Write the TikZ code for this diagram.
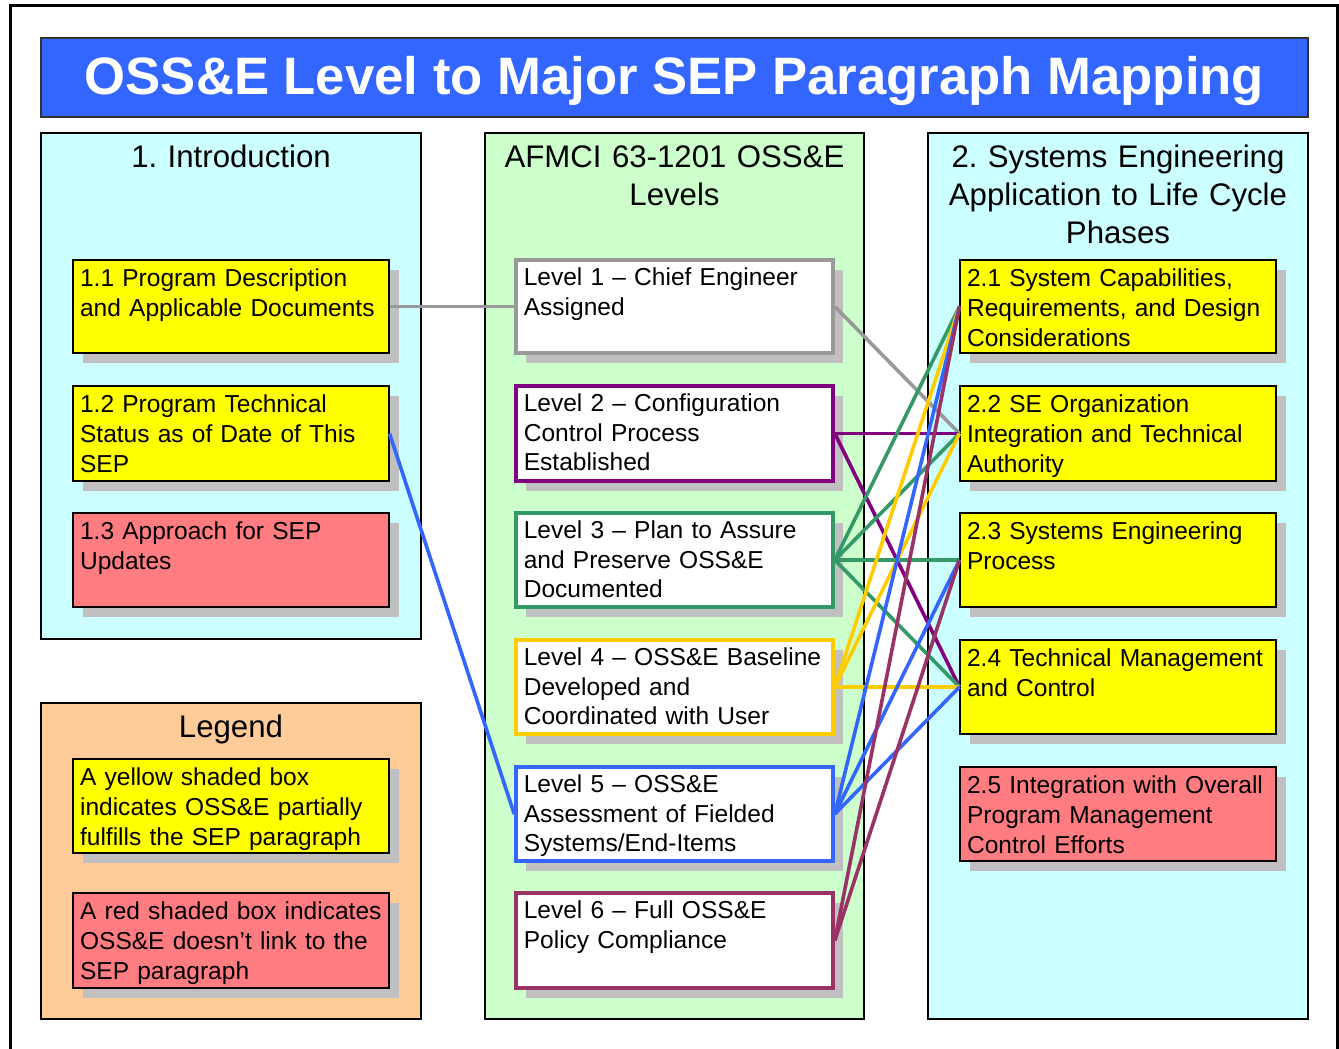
\documentclass[tikz,border=0pt]{standalone}
\usepackage{fontspec}
\setmainfont{Liberation Sans}
\usetikzlibrary{fit,shadows}
\definecolor{titleblue}{HTML}{3366FF}
\definecolor{panelcyan}{HTML}{CCFFFF}
\definecolor{panelgreen}{HTML}{CCFFCC}
\definecolor{panelorange}{HTML}{FFCC99}
\definecolor{boxyellow}{HTML}{FFFF00}
\definecolor{boxred}{HTML}{FF7C80}
\definecolor{shadowgray}{HTML}{C0C0C0}
\definecolor{lvone}{HTML}{999999}
\definecolor{lvtwo}{HTML}{800080}
\definecolor{lvthree}{HTML}{339966}
\definecolor{lvfour}{HTML}{FFCC00}
\definecolor{lvfive}{HTML}{3366FF}
\definecolor{lvsix}{HTML}{993366}
\newcommand\boxfont{\fontsize{18.4}{22.2}\selectfont}
\newcommand\headfont{\fontsize{23.4}{28.5}\selectfont}
\frenchspacing
\tikzset{
  panel/.style={draw=black, line width=0.8pt, inner sep=0pt},
  shad/.style={drop shadow={shadow xshift=7.5pt, shadow yshift=-7.5pt, fill=shadowgray, opacity=1}},
  ybox/.style={shad, draw=black, line width=0.8pt, fill=boxyellow, inner sep=0pt},
  rbox/.style={shad, draw=black, line width=0.8pt, fill=boxred, inner sep=0pt},
  lbox/.style={shad, draw=#1, line width=2.7pt, fill=white, inner sep=0pt},
  txt/.style={font=\boxfont, text width=232pt, align=left, inner sep=0pt, anchor=north west},
  head/.style={font=\headfont, text width=280pt, align=center, inner sep=0pt, anchor=north},
  conn/.style={line width=2.7pt},
}
\begin{document}
\begin{tikzpicture}[x=0.75pt,y=-0.75pt]
\useasboundingbox (0,0) rectangle (1339,1049);
\fill[white] (0,0) rectangle (1339,1049);
% outer frame
\draw[line width=2.25pt] (10,1070) -- (10,6) -- (1337.5,6) -- (1337.5,1070);
% title
\node[draw=black!80, line width=0.8pt, fill=titleblue, inner sep=0pt, fit={(41,38) (1308,117)}] (banner) {};
\node[anchor=base, inner sep=0pt, text=white, font=\fontsize{39.5}{47}\selectfont\bfseries] (title) at (674.5,94) {OSS\&E Level to Major SEP Paragraph Mapping};
% panels
\node[panel, fill=panelcyan, fit={(41,133) (421,639)}] (pleft) {};
\node[panel, fill=panelorange, fit={(41,703) (421,1019)}] (pleg) {};
\node[panel, fill=panelgreen, fit={(485,133) (864,1019)}] (pmid) {};
\node[panel, fill=panelcyan, fit={(928,133) (1308,1019)}] (pright) {};
% headers
\node[head] (h1) at ([yshift=-6.3pt]pleft.north) {\strut 1. Introduction};
\node[head] (h2) at ([yshift=-6.3pt]pmid.north) {\strut AFMCI 63-1201 OSS\&E\\Levels};
\node[head] (h3) at ([yshift=-6.3pt]pright.north) {\strut 2. Systems Engineering\\Application to Life Cycle\\Phases};
\node[head] (h4) at ([yshift=-6.3pt]pleg.north) {\strut Legend};
% left boxes
\node[ybox, fit={(73,260) (389,353)}] (s11) {};
\node[ybox, fit={(73,386) (389,481)}] (s12) {};
\node[rbox, fit={(73,513) (389,607)}] (s13) {};
\node[txt] (t11) at ([xshift=5.5pt,yshift=-4.9pt]s11.north west) {\strut 1.1 Program Description\\and Applicable Documents};
\node[txt] (t12) at ([xshift=5.5pt,yshift=-4.9pt]s12.north west) {\strut 1.2 Program Technical\\Status as of Date of This\\SEP};
\node[txt] (t13) at ([xshift=5.5pt,yshift=-4.9pt]s13.north west) {\strut 1.3 Approach for SEP\\Updates};
% legend boxes
\node[ybox, fit={(73,759) (389,853)}] (g1) {};
\node[rbox, fit={(73,893) (389,988)}] (g2) {};
\node[txt] (tg1) at ([xshift=5.5pt,yshift=-4.9pt]g1.north west) {\strut A yellow shaded box\\indicates OSS\&E partially\\fulfills the SEP paragraph};
\node[txt] (tg2) at ([xshift=5.5pt,yshift=-4.9pt]g2.north west) {\strut A red shaded box indicates\\OSS\&E doesn’t link to the\\SEP paragraph};
% middle boxes
\node[lbox=lvone, fit={(516,260) (833,353)}] (L1) {};
\node[lbox=lvtwo, fit={(516,386) (833,481)}] (L2) {};
\node[lbox=lvthree, fit={(516,513) (833,607)}] (L3) {};
\node[lbox=lvfour, fit={(516,640) (833,734)}] (L4) {};
\node[lbox=lvfive, fit={(516,767) (833,861)}] (L5) {};
\node[lbox=lvsix, fit={(516,893) (833,988)}] (L6) {};
\node[txt] (tL1) at ([xshift=7pt,yshift=-4.9pt]L1.north west) {\strut Level 1 – Chief Engineer\\Assigned};
\node[txt] (tL2) at ([xshift=7pt,yshift=-4.9pt]L2.north west) {\strut Level 2 – Configuration\\Control Process\\Established};
\node[txt] (tL3) at ([xshift=7pt,yshift=-4.9pt]L3.north west) {\strut Level 3 – Plan to Assure\\and Preserve OSS\&E\\Documented};
\node[txt] (tL4) at ([xshift=7pt,yshift=-4.9pt]L4.north west) {\strut Level 4 – OSS\&E Baseline\\Developed and\\Coordinated with User};
\node[txt] (tL5) at ([xshift=7pt,yshift=-4.9pt]L5.north west) {\strut Level 5 – OSS\&E\\Assessment of Fielded\\Systems/End-Items};
\node[txt] (tL6) at ([xshift=7pt,yshift=-4.9pt]L6.north west) {\strut Level 6 – Full OSS\&E\\Policy Compliance};
% right boxes
\node[ybox, fit={(960,260) (1276,353)}] (r21) {};
\node[ybox, fit={(960,386) (1276,481)}] (r22) {};
\node[ybox, fit={(960,513) (1276,607)}] (r23) {};
\node[ybox, fit={(960,640) (1276,734)}] (r24) {};
\node[rbox, fit={(960,767) (1276,861)}] (r25) {};
\node[txt] (t21) at ([xshift=5.5pt,yshift=-4.9pt]r21.north west) {\strut 2.1 System Capabilities,\\Requirements, and Design\\Considerations};
\node[txt] (t22) at ([xshift=5.5pt,yshift=-4.9pt]r22.north west) {\strut 2.2 SE Organization\\Integration and Technical\\Authority};
\node[txt] (t23) at ([xshift=5.5pt,yshift=-4.9pt]r23.north west) {\strut 2.3 Systems Engineering\\Process};
\node[txt] (t24) at ([xshift=5.5pt,yshift=-4.9pt]r24.north west) {\strut 2.4 Technical Management\\and Control};
\node[txt] (t25) at ([xshift=5.5pt,yshift=-4.9pt]r25.north west) {\strut 2.5 Integration with Overall\\Program Management\\Control Efforts};
% connectors
\draw[conn, lvone] (s11.east) -- (L1.west);
\draw[conn, lvfive] (s12.east) -- (L5.west);
\draw[conn, lvone] (L1.east) -- (r22.west);
\draw[conn, lvtwo] (L2.east) -- (r22.west);
\draw[conn, lvtwo] (L2.east) -- (r24.west);
\draw[conn, lvthree] (L3.east) -- (r21.west);
\draw[conn, lvthree] (L3.east) -- (r22.west);
\draw[conn, lvthree] (L3.east) -- (r23.west);
\draw[conn, lvthree] (L3.east) -- (r24.west);
\draw[conn, lvfour] (L4.east) -- (r21.west);
\draw[conn, lvfour] (L4.east) -- (r22.west);
\draw[conn, lvfour] (L4.east) -- (r24.west);
\draw[conn, lvfive] (L5.east) -- (r21.west);
\draw[conn, lvfive] (L5.east) -- (r23.west);
\draw[conn, lvfive] (L5.east) -- (r24.west);
\draw[conn, lvsix] (L6.east) -- (r21.west);
\draw[conn, lvsix] (L6.east) -- (r23.west);
\end{tikzpicture}
\end{document}
